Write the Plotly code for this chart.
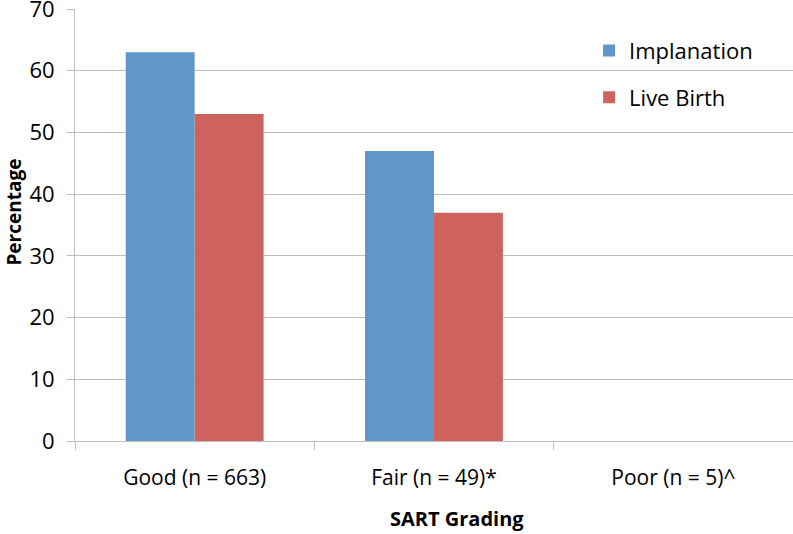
import plotly.graph_objects as go

categories = ["Good (n = 663)", "Fair (n = 49)*", "Poor (n = 5)^"]
implantation = [63, 47, 0]
live_birth = [53, 37, 0]
y_ticks = [0, 10, 20, 30, 40, 50, 60, 70]

font_family = "Open Sans, Liberation Sans, sans-serif"

fig = go.Figure()
fig.add_trace(go.Bar(x=categories, y=implantation, name="Implanation",
                     marker=dict(color="#6096C9", line=dict(width=0)),
                     legendgroup="a"))
fig.add_trace(go.Bar(x=categories, y=live_birth, name="Live Birth",
                     marker=dict(color="#CE635D", line=dict(width=0)),
                     legendgroup="b"))

fig.update_layout(
    width=793, height=534,
    margin=dict(l=75, r=0, t=9, b=93, autoexpand=False),
    paper_bgcolor="white", plot_bgcolor="white",
    barmode="group", bargap=0.424, bargroupgap=0,
    font=dict(family=font_family, size=21, color="black"),
    legend=dict(x=0.716, y=0.952, xanchor="left", yanchor="top",
                bgcolor="rgba(0,0,0,0)", font=dict(size=22),
                tracegroupgap=15, itemwidth=30),
    xaxis=dict(
        type="category", showline=True, linecolor="#BFBFBF", linewidth=1,
        ticks="outside", tickson="boundaries", ticklen=8, tickcolor="#BFBFBF",
        showgrid=False, automargin=False, ticklabelstandoff=18,
        tickfont=dict(size=21),
    ),
    yaxis=dict(
        range=[0, 70], tickvals=y_ticks, showline=True, linecolor="#BFBFBF",
        linewidth=1, ticks="outside", ticklen=7, tickcolor="#BFBFBF",
        showgrid=True, gridcolor="#BFBFBF", gridwidth=1, zeroline=False,
        automargin=False, ticklabelstandoff=8, ticklabeloverflow="allow",
        tickfont=dict(size=22),
    ),
    annotations=[
        dict(text="<b>SART Grading</b>", xref="paper", yref="paper",
             x=0.532, y=-0.18, xanchor="center", yanchor="middle",
             showarrow=False, font=dict(size=20)),
        dict(text="<b>Percentage</b>", xref="paper", yref="paper",
             x=-0.085, y=0.531, xanchor="center", yanchor="middle",
             textangle=-90, showarrow=False, font=dict(size=19)),
    ],
)

fig.write_html("out.html", config={"displayModeBar": False},
               post_script="document.body.style.margin='0';")
